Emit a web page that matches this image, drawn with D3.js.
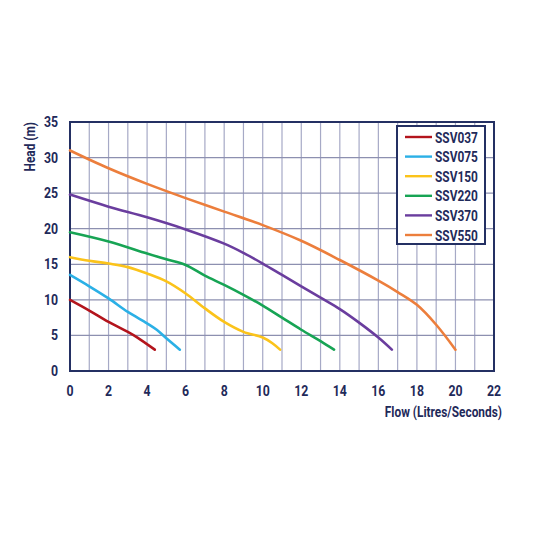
<!DOCTYPE html>
<html>
<head>
<meta charset="utf-8">
<script src="https://cdn.jsdelivr.net/npm/d3@7"></script>
<style>
  body { margin: 0; background: #fff; }
  text { font-family: Roboto, "Noto Sans", sans-serif; font-weight: bold; fill: #1f2a5a; }
</style>
</head>
<body>
<div id="chart"></div>
<script>
// pump curves, flow (L/s) vs head (m)
const models = ["SSV037", "SSV075", "SSV150", "SSV220", "SSV370", "SSV550"]
const colors = ["#b3141c", "#2bb0e6", "#fbc31a", "#17a454", "#6a3d9e", "#ec7e3c"]

const ssv037 = [[0, 10], [1, 8.5], [2, 6.9], [3, 5.5], [3.5, 4.7], [4.4, 3]]
const ssv075 = [[0, 13.5], [1, 11.9], [2, 10.2], [3, 8.3], [4, 6.7], [4.5, 5.8], [5, 4.6], [5.7, 3]]
const ssv150 = [[0, 16], [1, 15.5], [2, 15.1], [3, 14.6], [4, 13.7], [5, 12.6], [6, 10.9], [7, 8.8], [8, 6.9], [9, 5.5], [10, 4.7], [10.5, 3.9], [10.9, 3]]
const ssv220 = [[0, 19.5], [2, 18.2], [4, 16.5], [5, 15.7], [6, 14.9], [7, 13.4], [8, 12.1], [9, 10.7], [10, 9.2], [11, 7.5], [12, 5.8], [13, 4.2], [13.7, 3]]
const ssv370 = [[0, 24.8], [2, 23.1], [4, 21.6], [6, 19.9], [8, 17.9], [9, 16.6], [10, 15.1], [11, 13.5], [12, 11.9], [13, 10.3], [14, 8.7], [15, 6.8], [16, 4.7], [16.7, 3]]
const ssv550 = [[0, 31], [2, 28.5], [4, 26.3], [6, 24.3], [8, 22.4], [10, 20.5], [12, 18.3], [14, 15.6], [16, 12.7], [17, 11.1], [18, 9.3], [19, 6.5], [20, 3]]
const series = [ssv037, ssv075, ssv150, ssv220, ssv370, ssv550]

const xTicks = [0, 2, 4, 6, 8, 10, 12, 14, 16, 18, 20, 22]
const yTicks = [0, 5, 10, 15, 20, 25, 30, 35]

const width = 533, height = 533
const margin = {left: 70, right: 39, top: 122, bottom: 162}
const narrow = 0.82 // squeeze text to look like the condensed face

const svg = d3.select("#chart")
  .append("svg")
    .attr("width", width)
    .attr("height", height)

const x = d3.scaleLinear().domain([0, 22]).range([margin.left, width - margin.right])
const y = d3.scaleLinear().domain([0, 35]).range([height - margin.bottom, margin.top])

// grid: every 1 on x, every 5 on y
svg.append("g")
  .selectAll("line")
  .data(d3.range(1, 22))
  .join("line")
    .attr("x1", d => x(d)).attr("x2", d => x(d))
    .attr("y1", y(0)).attr("y2", y(35))
    .attr("stroke", "#a6a9c6")
    .attr("stroke-width", 1.2)

svg.append("g")
  .selectAll("line")
  .data(yTicks.slice(1, -1))
  .join("line")
    .attr("x1", x(0)).attr("x2", x(22))
    .attr("y1", d => y(d)).attr("y2", d => y(d))
    .attr("stroke", "#8d90b0")
    .attr("stroke-width", 1.2)

// frame
svg.append("rect")
  .attr("x", x(0)).attr("y", y(35))
  .attr("width", x(22) - x(0)).attr("height", y(0) - y(35))
  .attr("fill", "none")
  .attr("stroke", "#243063")
  .attr("stroke-width", 2)

// tick labels
svg.append("g")
  .selectAll("text")
  .data(xTicks)
  .join("text")
    .attr("transform", d => `translate(${x(d)},${y(0) + 25}) scale(${narrow},1)`)
    .attr("text-anchor", "middle")
    .style("font-size", "15px")
    .text(d => d)

svg.append("g")
  .selectAll("text")
  .data(yTicks)
  .join("text")
    .attr("transform", d => `translate(${x(0) - 12},${y(d) + 5}) scale(${narrow},1)`)
    .attr("text-anchor", "end")
    .style("font-size", "15px")
    .text(d => d)

// axis titles
svg.append("text")
  .attr("transform", `translate(35,${y(35)}) rotate(-90) scale(${narrow},1)`)
  .attr("text-anchor", "end")
  .style("font-size", "14.5px")
  .text("Head (m)")

svg.append("text")
  .attr("transform", `translate(502,417) scale(${narrow},1)`)
  .attr("text-anchor", "end")
  .style("font-size", "14.5px")
  .text("Flow (Litres/Seconds)")

// curves
const line = d3.line()
  .x(d => x(d[0]))
  .y(d => y(d[1]))
  .curve(d3.curveCatmullRom)

svg.append("g")
  .selectAll("path")
  .data(series)
  .join("path")
    .attr("d", line)
    .attr("fill", "none")
    .attr("stroke", (d, i) => colors[i])
    .attr("stroke-width", 2.6)
    .attr("stroke-linecap", "round")

// legend
const legend = svg.append("g").attr("transform", "translate(397,126)")
legend.append("rect")
  .attr("width", 88).attr("height", 118)
  .attr("fill", "#fff")
  .attr("stroke", "#243063")
  .attr("stroke-width", 2)

const item = legend.selectAll("g.item")
  .data(models)
  .join("g")
    .attr("class", "item")
    .attr("transform", (d, i) => `translate(0,${11 + i * 19.6})`)

item.append("line")
  .attr("x1", 8).attr("x2", 35)
  .attr("stroke", (d, i) => colors[i])
  .attr("stroke-width", 2.4)

item.append("text")
  .attr("transform", `translate(38,5.5) scale(${narrow},1)`)
  .style("font-size", "14.5px")
  .text(d => d)
</script>
</body>
</html>
